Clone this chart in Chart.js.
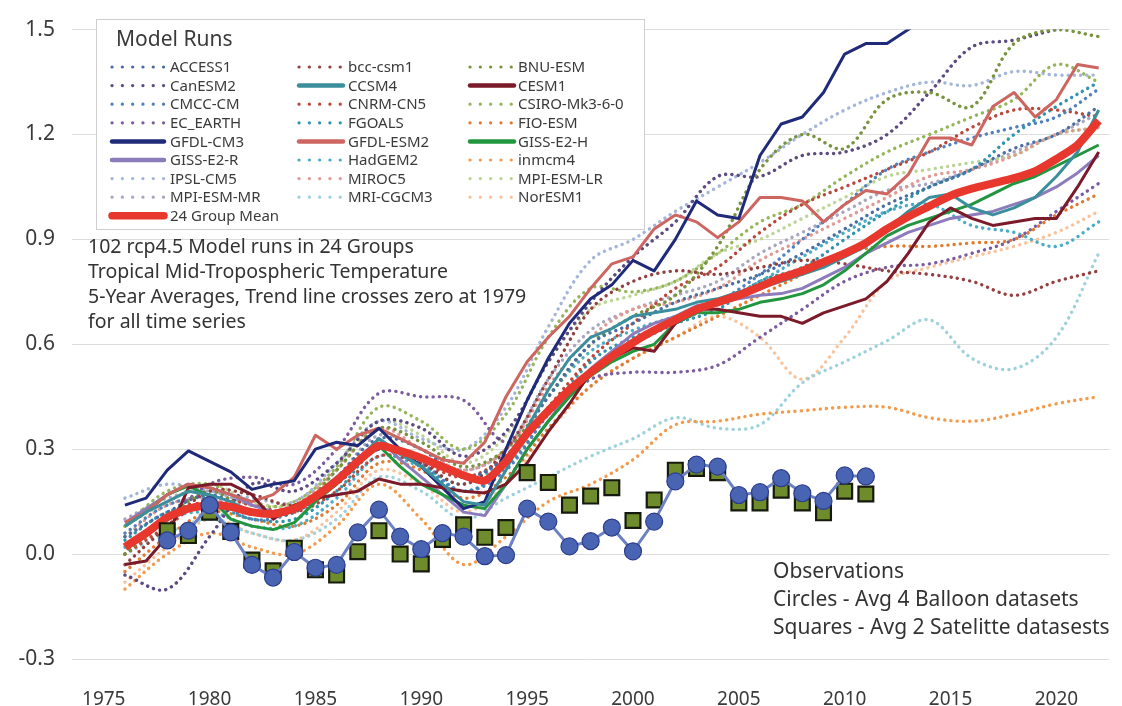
<!DOCTYPE html>
<html>
<head>
<meta charset="utf-8">
<script src="https://cdn.jsdelivr.net/npm/chart.js@4.4.1/dist/chart.umd.min.js"></script>
<style>
  html, body { margin: 0; padding: 0; background: #fff; }
  #wrap { width: 1122px; height: 706px; position: relative; }
</style>
</head>
<body>
<div id="wrap"><canvas id="chart"></canvas></div>
<script>
const FONT = '"Noto Sans", "Open Sans", sans-serif';

// axis ticks
const X_TICKS = [1975, 1980, 1985, 1990, 1995, 2000, 2005, 2010, 2015, 2020];
const Y_TICKS = [-0.3, 0, 0.3, 0.6, 0.9, 1.2, 1.5];

// yearly model years (solid lines + mean) and 2-year steps (dotted lines)
const YEARS = [1976, 1977, 1978, 1979, 1980, 1981, 1982, 1983, 1984, 1985, 1986, 1987, 1988, 1989, 1990,
  1991, 1992, 1993, 1994, 1995, 1996, 1997, 1998, 1999, 2000, 2001, 2002, 2003, 2004, 2005, 2006, 2007,
  2008, 2009, 2010, 2011, 2012, 2013, 2014, 2015, 2016, 2017, 2018, 2019, 2020, 2021, 2022];
const YEARS_2 = [1976, 1978, 1980, 1982, 1984, 1986, 1988, 1990, 1992, 1994, 1996, 1998, 2000, 2002,
  2004, 2006, 2008, 2010, 2012, 2014, 2016, 2018, 2020, 2022];
const OBS_YEARS = [1978, 1979, 1980, 1981, 1982, 1983, 1984, 1985, 1986, 1987, 1988, 1989, 1990, 1991,
  1992, 1993, 1994, 1995, 1996, 1997, 1998, 1999, 2000, 2001, 2002, 2003, 2004, 2005, 2006, 2007, 2008,
  2009, 2010, 2011];

// solid (yearly)
const MEAN = [0.02, 0.06, 0.105, 0.13, 0.14, 0.135, 0.12, 0.115, 0.13, 0.165, 0.21, 0.265, 0.31, 0.295, 0.275,
  0.25, 0.225, 0.21, 0.265, 0.345, 0.41, 0.47, 0.52, 0.565, 0.605, 0.64, 0.67, 0.70, 0.72, 0.74, 0.765, 0.79,
  0.81, 0.835, 0.86, 0.89, 0.93, 0.965, 0.995, 1.025, 1.045, 1.06, 1.075, 1.095, 1.13, 1.17, 1.24];
const GFDL_CM3 = [0.14, 0.16, 0.24, 0.295, 0.265, 0.235, 0.185, 0.2, 0.21, 0.3, 0.32, 0.31, 0.36, 0.3, 0.25,
  0.19, 0.13, 0.15, 0.3, 0.44, 0.56, 0.66, 0.73, 0.77, 0.84, 0.81, 0.90, 1.01, 0.97, 0.96, 1.14, 1.23,
  1.25, 1.32, 1.43, 1.46, 1.46, 1.50, 1.54];
const GFDL_ESM2 = [0.09, 0.12, 0.17, 0.2, 0.19, 0.17, 0.15, 0.17, 0.22, 0.34, 0.3, 0.34, 0.36, 0.33, 0.3,
  0.27, 0.26, 0.32, 0.45, 0.55, 0.62, 0.68, 0.76, 0.83, 0.85, 0.93, 0.97, 0.95, 0.905, 0.95, 1.02, 1.02,
  1.01, 0.95, 1.0, 1.04, 1.03, 1.085, 1.19, 1.19, 1.17, 1.28, 1.32, 1.25, 1.30, 1.40, 1.39];
const CCSM4 = [0.08, 0.12, 0.15, 0.18, 0.17, 0.15, 0.12, 0.11, 0.13, 0.17, 0.21, 0.27, 0.33, 0.29, 0.25,
  0.2, 0.15, 0.14, 0.24, 0.36, 0.47, 0.56, 0.62, 0.645, 0.68, 0.69, 0.70, 0.72, 0.73, 0.75, 0.76, 0.78,
  0.80, 0.82, 0.85, 0.88, 0.93, 0.98, 1.02, 1.03, 0.99, 0.97, 0.99, 1.02, 1.08, 1.15, 1.27];
const CESM1 = [-0.03, -0.02, 0.05, 0.19, 0.2, 0.2, 0.17, 0.1, 0.14, 0.16, 0.17, 0.18, 0.215, 0.2, 0.2,
  0.19, 0.18, 0.175, 0.2, 0.26, 0.35, 0.43, 0.52, 0.56, 0.59, 0.58, 0.66, 0.7, 0.7, 0.69, 0.68, 0.68,
  0.66, 0.69, 0.71, 0.73, 0.78, 0.86, 0.95, 0.99, 0.96, 0.94, 0.95, 0.96, 0.96, 1.05, 1.15];
const GISS_E2_H = [0.08, 0.12, 0.17, 0.195, 0.165, 0.1, 0.08, 0.07, 0.09, 0.15, 0.2, 0.26, 0.31, 0.25, 0.2,
  0.17, 0.14, 0.13, 0.2, 0.3, 0.38, 0.45, 0.51, 0.55, 0.58, 0.6, 0.66, 0.69, 0.69, 0.7, 0.72, 0.73,
  0.745, 0.77, 0.81, 0.86, 0.91, 0.94, 0.96, 0.98, 1.0, 1.03, 1.06, 1.08, 1.11, 1.14, 1.17];
const GISS_E2_R = [0.09, 0.13, 0.17, 0.2, 0.19, 0.17, 0.14, 0.12, 0.13, 0.17, 0.22, 0.27, 0.33, 0.27, 0.22,
  0.17, 0.12, 0.11, 0.2, 0.3, 0.38, 0.46, 0.53, 0.58, 0.63, 0.66, 0.68, 0.71, 0.72, 0.73, 0.74, 0.745,
  0.76, 0.79, 0.82, 0.86, 0.89, 0.92, 0.94, 0.96, 0.97, 0.98, 1.0, 1.02, 1.05, 1.09, 1.14];

// dotted (2-year steps)
const ACCESS1 = [0.05, 0.12, 0.17, 0.12, 0.12, 0.22, 0.33, 0.3, 0.22, 0.28, 0.45, 0.6, 0.66, 0.72, 0.76, 0.8, 0.86, 0.93, 1.0, 1.05, 1.1, 1.16, 1.2, 1.28];
const BCC_CSM1 = [-0.03, 0.08, 0.18, 0.17, 0.14, 0.2, 0.3, 0.26, 0.2, 0.3, 0.5, 0.7, 0.78, 0.81, 0.80, 0.82, 0.84, 0.83, 0.81, 0.80, 0.78, 0.74, 0.78, 0.81];
const BNU_ESM = [0.0, 0.1, 0.18, 0.12, 0.12, 0.24, 0.36, 0.32, 0.25, 0.3, 0.45, 0.6, 0.68, 0.74, 0.88, 1.1, 1.2, 1.16, 1.30, 1.32, 1.28, 1.46, 1.5, 1.48];
const CANESM2 = [-0.06, -0.1, 0.05, 0.2, 0.18, 0.26, 0.38, 0.36, 0.28, 0.35, 0.55, 0.72, 0.85, 0.95, 1.08, 1.08, 1.14, 1.15, 1.2, 1.32, 1.45, 1.47, 1.5, 1.52];
const CMCC_CM = [0.06, 0.14, 0.16, 0.1, 0.12, 0.2, 0.3, 0.26, 0.18, 0.24, 0.4, 0.52, 0.6, 0.66, 0.72, 0.8, 0.9, 1.0, 1.1, 1.15, 1.19, 1.22, 1.25, 1.33];
const CNRM_CN5 = [0.0, 0.08, 0.16, 0.14, 0.12, 0.18, 0.28, 0.26, 0.22, 0.28, 0.42, 0.56, 0.66, 0.76, 0.82, 0.92, 1.0, 1.05, 1.1, 1.15, 1.22, 1.27, 1.27, 1.25];
const CSIRO = [0.08, 0.18, 0.2, 0.14, 0.15, 0.25, 0.42, 0.38, 0.3, 0.4, 0.62, 0.76, 0.75, 0.78, 0.86, 0.95, 1.0, 1.08, 1.15, 1.2, 1.25, 1.3, 1.4, 1.35];
const EC_EARTH = [0.0, 0.1, 0.2, 0.22, 0.2, 0.3, 0.46, 0.45, 0.44, 0.32, 0.4, 0.5, 0.52, 0.52, 0.54, 0.62, 0.7, 0.78, 0.82, 0.83, 0.86, 0.9, 0.98, 1.06];
const FGOALS = [0.04, 0.12, 0.14, 0.1, 0.1, 0.18, 0.3, 0.25, 0.18, 0.25, 0.4, 0.55, 0.62, 0.66, 0.7, 0.78, 0.82, 0.9, 0.98, 1.05, 1.1, 1.2, 1.28, 1.35];
const FIO_ESM = [-0.05, 0.05, 0.12, 0.1, 0.08, 0.14, 0.26, 0.24, 0.16, 0.22, 0.36, 0.48, 0.56, 0.62, 0.68, 0.74, 0.8, 0.86, 0.88, 0.88, 0.89, 0.9, 0.97, 1.03];
const HADGEM2 = [0.02, 0.1, 0.12, 0.08, 0.08, 0.16, 0.28, 0.25, 0.2, 0.28, 0.45, 0.58, 0.64, 0.68, 0.72, 0.78, 0.85, 0.92, 0.98, 1.0, 0.94, 0.92, 0.88, 0.95];
const INMCM4 = [-0.1, 0.0, 0.06, 0.02, 0.0, 0.08, 0.2, 0.1, -0.03, 0.05, 0.15, 0.2, 0.27, 0.37, 0.38, 0.4, 0.41, 0.42, 0.42, 0.39, 0.38, 0.4, 0.43, 0.45];
const IPSL_CM5 = [0.16, 0.2, 0.18, 0.16, 0.15, 0.26, 0.38, 0.33, 0.3, 0.42, 0.65, 0.84, 0.9, 0.98, 1.05, 1.12, 1.2, 1.27, 1.32, 1.35, 1.34, 1.38, 1.37, 1.37];
const MIROC5 = [0.05, 0.14, 0.16, 0.12, 0.14, 0.24, 0.36, 0.3, 0.24, 0.3, 0.48, 0.62, 0.7, 0.72, 0.76, 0.84, 0.9, 0.96, 1.02, 1.08, 1.1, 1.14, 1.2, 1.22];
const MPI_ESM_LR = [0.08, 0.15, 0.2, 0.15, 0.14, 0.24, 0.38, 0.34, 0.26, 0.34, 0.55, 0.7, 0.74, 0.78, 0.86, 0.9, 0.96, 1.02, 1.08, 1.1, 1.12, 1.14, 1.2, 1.22];
const MPI_ESM_MR = [0.1, 0.16, 0.18, 0.14, 0.12, 0.22, 0.34, 0.3, 0.24, 0.3, 0.5, 0.64, 0.7, 0.74, 0.78, 0.86, 0.92, 0.98, 1.04, 1.06, 1.1, 1.15, 1.2, 1.26];
const MRI_CGCM3 = [0.0, 0.06, 0.1, 0.06, 0.04, 0.1, 0.22, 0.18, 0.1, 0.16, 0.22, 0.28, 0.33, 0.39, 0.36, 0.37, 0.49, 0.55, 0.61, 0.67, 0.56, 0.53, 0.62, 0.86];
const NORESM1 = [-0.08, 0.02, 0.1, 0.06, 0.04, 0.12, 0.24, 0.2, 0.12, 0.2, 0.35, 0.48, 0.56, 0.62, 0.68, 0.62, 0.5, 0.62, 0.78, 0.82, 0.85, 0.88, 0.92, 0.98];

// observations
const BALLOON = [0.039, 0.067, 0.14, 0.062, -0.031, -0.067, 0.006, -0.039, -0.031, 0.062, 0.127, 0.05, 0.014,
  0.06, 0.05, -0.006, -0.003, 0.13, 0.093, 0.022, 0.037, 0.076, 0.008, 0.093, 0.208, 0.256, 0.25, 0.169,
  0.177, 0.217, 0.174, 0.152, 0.225, 0.222];
const SATELLITE = [0.067, 0.053, 0.12, 0.065, -0.017, -0.048, 0.017, -0.045, -0.06, 0.007, 0.067, 0.0, -0.028,
  0.042, 0.084, 0.048, 0.076, 0.233, 0.205, 0.14, 0.166, 0.19, 0.096, 0.155, 0.24, 0.245, 0.233, 0.146,
  0.146, 0.183, 0.146, 0.118, 0.18, 0.172];

// legend order (row-major, 3 columns)
const MODELS = [
  { name: 'ACCESS1', data: ACCESS1, color: '#4a6ea0', solid: false },
  { name: 'bcc-csm1', data: BCC_CSM1, color: '#934040', solid: false },
  { name: 'BNU-ESM', data: BNU_ESM, color: '#77933c', solid: false },
  { name: 'CanESM2', data: CANESM2, color: '#5c4a80', solid: false },
  { name: 'CCSM4', data: CCSM4, color: '#3b8e9c', solid: true },
  { name: 'CESM1', data: CESM1, color: '#7b1a28', solid: true },
  { name: 'CMCC-CM', data: CMCC_CM, color: '#4f81bd', solid: false },
  { name: 'CNRM-CN5', data: CNRM_CN5, color: '#b9473c', solid: false },
  { name: 'CSIRO-Mk3-6-0', data: CSIRO, color: '#95b55a', solid: false },
  { name: 'EC_EARTH', data: EC_EARTH, color: '#7b5c9e', solid: false },
  { name: 'FGOALS', data: FGOALS, color: '#2f95ad', solid: false },
  { name: 'FIO-ESM', data: FIO_ESM, color: '#e07b30', solid: false },
  { name: 'GFDL-CM3', data: GFDL_CM3, color: '#1f2a78', solid: true },
  { name: 'GFDL-ESM2', data: GFDL_ESM2, color: '#cd6560', solid: true },
  { name: 'GISS-E2-H', data: GISS_E2_H, color: '#22963f', solid: true },
  { name: 'GISS-E2-R', data: GISS_E2_R, color: '#8d7cbc', solid: true },
  { name: 'HadGEM2', data: HADGEM2, color: '#4bacc6', solid: false },
  { name: 'inmcm4', data: INMCM4, color: '#f39a4c', solid: false },
  { name: 'IPSL-CM5', data: IPSL_CM5, color: '#a3b5d8', solid: false },
  { name: 'MIROC5', data: MIROC5, color: '#de9994', solid: false },
  { name: 'MPI-ESM-LR', data: MPI_ESM_LR, color: '#bcd495', solid: false },
  { name: 'MPI-ESM-MR', data: MPI_ESM_MR, color: '#a9a6bf', solid: false },
  { name: 'MRI-CGCM3', data: MRI_CGCM3, color: '#9dd1dc', solid: false },
  { name: 'NorESM1', data: NORESM1, color: '#f8c39c', solid: false }
];

function pts(xs, ys) {
  return ys.map((y, i) => ({ x: xs[i], y }));
}

const datasets = [];
datasets.push({
  label: 'Circles - Avg 4 Balloon datasets', data: pts(OBS_YEARS, BALLOON), order: 0,
  borderColor: '#6b81c4', borderWidth: 3, tension: 0,
  pointRadius: 8.5, pointBackgroundColor: '#4a64b4', pointBorderColor: '#2c3d8c', pointBorderWidth: 1.2
});
datasets.push({
  label: 'Squares - Avg 2 Satelitte datasests', data: pts(OBS_YEARS, SATELLITE), order: 1, showLine: false,
  pointStyle: 'rect', pointRadius: 10.5, pointBackgroundColor: '#6f8c2c', pointBorderColor: '#151a0c', pointBorderWidth: 2.2
});
datasets.push({
  label: '24 Group Mean', data: pts(YEARS, MEAN), order: 2,
  borderColor: '#e8372c', borderWidth: 8, pointRadius: 0, tension: 0.2, borderJoinStyle: 'round'
});
MODELS.forEach(m => {
  datasets.push({
    label: m.name,
    data: pts(m.solid ? YEARS : YEARS_2, m.data),
    order: m.solid ? 3 : 4,
    borderColor: m.color,
    borderWidth: m.solid ? 3 : 3.4,
    borderDash: m.solid ? [] : [0.1, 6.2],
    borderCapStyle: m.solid ? 'butt' : 'round',
    borderJoinStyle: 'round',
    pointRadius: 0,
    tension: m.solid ? 0 : 0.35
  });
});

const overlay = {
  id: 'overlay',
  afterDraw(chart) {
    const ctx = chart.ctx;
    ctx.save();
    // legend box
    ctx.fillStyle = '#ffffff';
    ctx.fillRect(96, 19, 548, 210);
    ctx.strokeStyle = '#cfcfcf';
    ctx.lineWidth = 1;
    ctx.strokeRect(96.5, 19.5, 548, 210);
    ctx.textBaseline = 'middle';
    ctx.fillStyle = '#3a3a3a';
    ctx.font = '21px ' + FONT;
    ctx.fillText('Model Runs', 116, 40);

    const cols = [{ a: 110, b: 166, t: 170 }, { a: 297, b: 345, t: 348 }, { a: 468, b: 516, t: 518 }];
    const items = MODELS.map(m => ({ name: m.name, color: m.color, solid: m.solid, w: m.solid ? 4.5 : 3.2 }));
    items.push({ name: '24 Group Mean', color: '#e8372c', solid: true, w: 7.5 });
    ctx.font = '15px ' + FONT;
    items.forEach((it, i) => {
      const c = cols[i % 3];
      const y = 67 + Math.floor(i / 3) * 18.6;
      ctx.beginPath();
      ctx.strokeStyle = it.color;
      ctx.lineWidth = it.w;
      ctx.lineCap = 'round';
      ctx.setLineDash(it.solid ? [] : [0.1, 10.2]);
      ctx.moveTo(c.a + 2, y);
      ctx.lineTo(c.b - 2, y);
      ctx.stroke();
      ctx.setLineDash([]);
      ctx.fillStyle = '#3a3a3a';
      ctx.fillText(it.name, c.t, y + 1);
    });

    // notes
    ctx.font = '19.5px ' + FONT;
    ctx.fillStyle = '#333333';
    ['102 rcp4.5 Model runs in 24 Groups', 'Tropical Mid-Tropospheric Temperature',
      '5-Year Averages, Trend line crosses zero at 1979', 'for all time series']
      .forEach((s, i) => ctx.fillText(s, 88, 247 + i * 25));
    ctx.font = '21px ' + FONT;
    ['Observations', 'Circles - Avg 4 Balloon datasets', 'Squares - Avg 2 Satelitte datasests']
      .forEach((s, i) => ctx.fillText(s, 773, 572 + i * 28));
    ctx.restore();
  }
};

new Chart(document.getElementById('chart'), {
  type: 'line',
  data: { datasets },
  options: {
    responsive: true,
    maintainAspectRatio: false,
    animation: false,
    layout: { padding: { top: 19, right: 2, left: 0, bottom: 0 } },
    plugins: { legend: { display: false }, tooltip: { enabled: false } },
    scales: {
      x: {
        type: 'linear', min: 1973.5, max: 2022.5,
        afterBuildTicks: s => { s.ticks = X_TICKS.map(v => ({ value: v })); },
        afterFit: s => { s.height = 47; },
        grid: { display: false },
        border: { display: false },
        ticks: { callback: v => String(v), padding: 21, color: '#3a3a3a', font: { family: FONT, size: 19 }, maxRotation: 0 }
      },
      y: {
        min: -0.3, max: 1.5,
        afterBuildTicks: s => { s.ticks = Y_TICKS.map(v => ({ value: v })); },
        afterFit: s => { s.width = 72; },
        grid: { color: '#dcdcdc', drawTicks: false },
        border: { display: false },
        ticks: { callback: v => v.toFixed(1), padding: 17, color: '#3a3a3a', font: { family: FONT, size: 21 } }
      }
    }
  },
  plugins: [overlay]
});
</script>
</body>
</html>
